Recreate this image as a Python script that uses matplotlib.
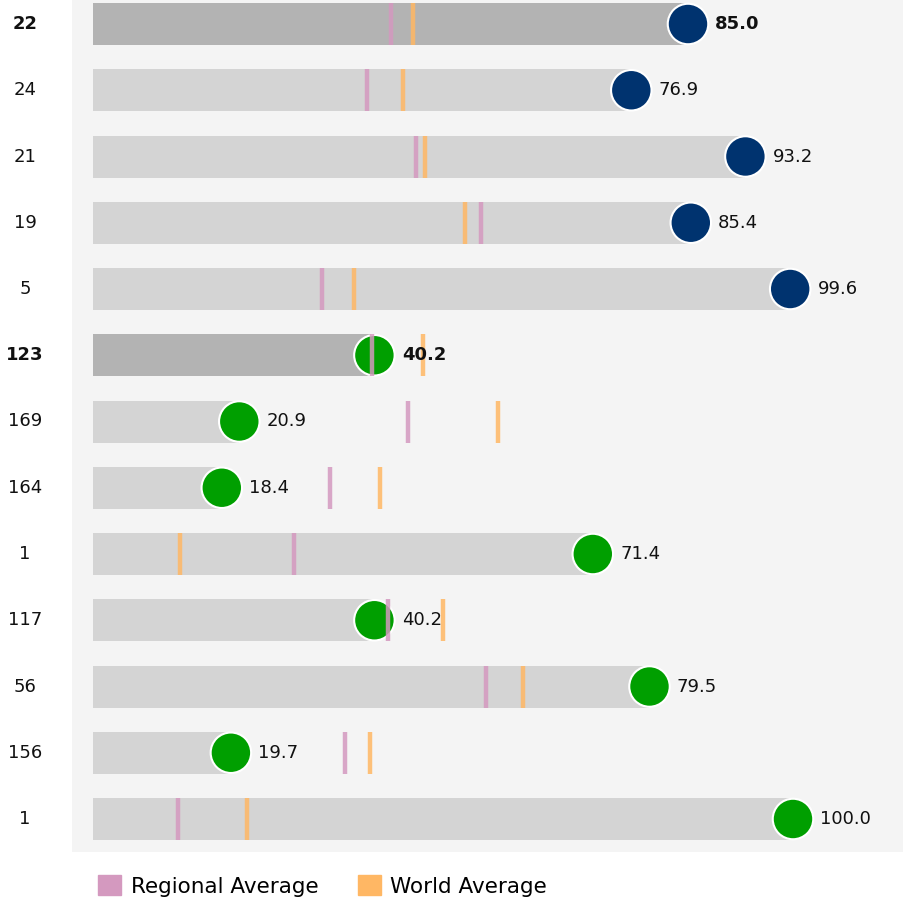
import numpy as np
import matplotlib.pyplot as plt
from matplotlib.patches import Patch

plt.rcParams['font.family'] = ['DejaVu Sans']

ranks = ['22', '24', '21', '19', '5', '123', '169', '164', '1', '117', '56', '156', '1']
scores = [85.0, 76.9, 93.2, 85.4, 99.6, 40.2, 20.9, 18.4, 71.4, 40.2, 79.5, 19.7, 100.0]
regional = [42.6, 39.1, 46.1, 55.4, 32.7, 39.9, 45.0, 33.9, 28.7, 42.1, 56.1, 36.0, 12.1]
world = [45.7, 44.3, 47.4, 53.1, 37.3, 47.1, 57.9, 41.0, 12.4, 50.0, 61.4, 39.6, 22.0]
highlight = [True, False, False, False, False, True, False, False, False, False, False, False, False]
group = ['navy'] * 5 + ['green'] * 8

dot_colors = {'navy': '#00336f', 'green': '#009f00'}
reg_color = '#d499bf'
world_color = '#ffb764'

fig = plt.figure(figsize=(9.04, 8.99), dpi=100)
W, H = 904, 899
ax = fig.add_axes([72 / W, (H - 852) / H, 832 / W, 852 / H])
ax.set_facecolor('#f4f4f4')

px = 7.0  # pixels per score unit
ax.set_xlim(-21 / px, (904 - 93) / px)
row = 66.25
ax.set_ylim((852 - 24) / row, -24 / row)

y = np.arange(len(scores))
bar_h = 42 / row
bar_colors = ['#b3b3b3' if h else '#d4d4d4' for h in highlight]
ax.barh(y, scores, height=bar_h, color=bar_colors, zorder=1)

ax.scatter(scores, y, s=850, c=[dot_colors[g] for g in group],
           edgecolors='white', linewidths=1.5, zorder=3)

ax.vlines(regional, y - bar_h / 2, y + bar_h / 2, colors=reg_color,
          linewidth=3.2, alpha=0.85, zorder=4)
ax.vlines(world, y - bar_h / 2, y + bar_h / 2, colors=world_color,
          linewidth=3.2, alpha=0.85, zorder=4)

for i in range(len(scores)):
    wt = 'bold' if highlight[i] else 'normal'
    ax.text(scores[i] + 3.9, y[i], f'{scores[i]:.1f}', va='center', ha='left',
            fontsize=13, fontweight=wt, color='#111111', zorder=5)
    fig.text(25 / W, 1 - (24 + row * i) / H, ranks[i], ha='center', va='center',
             fontsize=13, fontweight=wt, color='#111111')

ax.set_xticks([])
ax.set_yticks([])
for s in ax.spines.values():
    s.set_visible(False)

handles = [Patch(color=reg_color, label='Regional Average'),
           Patch(color=world_color, label='World Average')]
fig.legend(handles=handles, loc='center left', bbox_to_anchor=(81 / W, 1 - 886 / H),
           ncol=2, frameon=False, fontsize=15.5, handlelength=1.05, handleheight=1.05,
           columnspacing=1.85, handletextpad=0.45, borderpad=0.3)

fig.savefig('out.png', dpi=100)
